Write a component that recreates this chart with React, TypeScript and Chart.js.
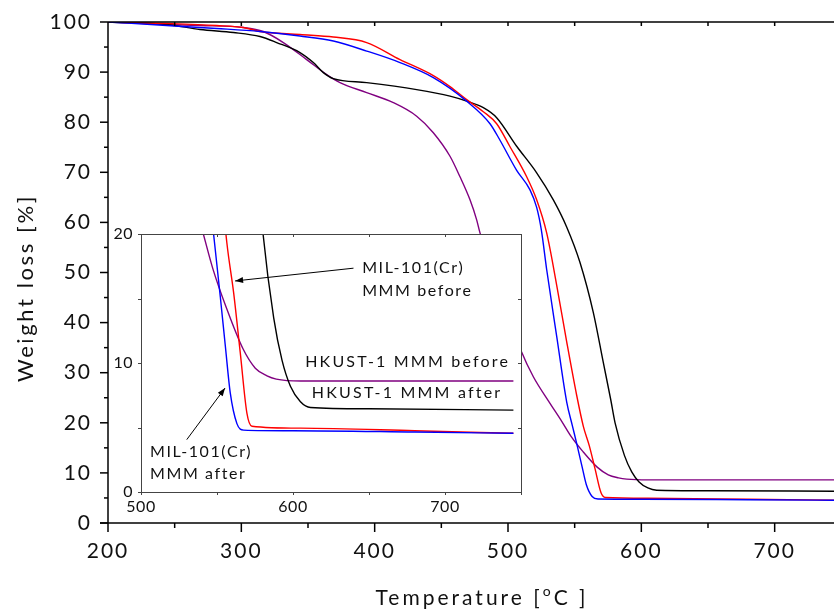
import React, { useEffect, useRef } from 'react';
import { Chart, registerables } from 'chart.js';

Chart.register(...registerables);

const FONT = 'Lato, "Open Sans", sans-serif';

// ---- Data (Temperature [°C], Weight [%]) ----
const redT = [200, 244, 281.5, 301.5, 314, 344, 369, 394, 419, 444, 456.5, 469, 481.5, 491.5, 501.5, 514, 521.5, 529, 536.5, 544, 551.5, 556.5, 561, 565.3, 569.7, 573, 605, 680, 745];
const redW = [100, 99.7, 99.3, 98.9, 98.1, 97.5, 97.0, 95.9, 92.5, 89.3, 87.1, 84.5, 82.1, 79.7, 75.1, 69.1, 64.5, 57.9, 47.5, 36.2, 25.5, 19.3, 15.4, 10.8, 6.1, 5.1, 4.95, 4.75, 4.55];

const blueT = [200, 244, 281.5, 314, 344, 369, 394, 419, 444, 469, 486.5, 494, 506.5, 516.5, 521.5, 525, 529, 536.5, 544, 548.3, 552.2, 555.5, 558.7, 563.1, 567.5, 600, 680, 745];
const blueW = [100, 99.3, 98.7, 98.1, 97.2, 96.2, 94.2, 91.9, 88.9, 84.2, 79.7, 76.4, 70.4, 66.5, 63.0, 58.5, 50.6, 37.3, 24.2, 19.4, 15.1, 11.3, 7.7, 5.3, 4.8, 4.75, 4.65, 4.55];

const blackT = [200, 244, 269, 294, 314, 326.5, 344, 354, 361.5, 369, 394, 431.5, 456.5, 469, 481.5, 491.5, 506.5, 521.5, 534, 544, 554, 564, 571.5, 577, 580.3, 587.3, 592.8, 598.3, 604.9, 611.5, 650, 745];
const blackW = [100, 99.5, 98.5, 97.9, 97.1, 95.9, 93.9, 91.9, 89.9, 88.7, 87.9, 86.5, 85.2, 84.2, 82.9, 80.9, 75.2, 69.9, 64.5, 59.1, 52.0, 42.0, 32.0, 24.7, 20, 13.5, 10.2, 8.2, 7.0, 6.55, 6.45, 6.35];

const purpleT = [200, 244, 269, 301.5, 316.5, 331.5, 349, 364, 374, 394, 414, 431.5, 444, 456.5, 464, 471.5, 476.5, 479, 494, 509.8, 519, 531.5, 540.3, 547.3, 556.1, 567.1, 575.2, 582.9, 589, 605, 680, 745];
const purpleW = [100, 99.5, 99.3, 98.9, 98.1, 95.9, 92.5, 89.5, 87.9, 85.9, 83.9, 81.2, 77.9, 73.2, 69.1, 64.5, 60.5, 57.9, 46, 34.4, 29.2, 23.9, 20.3, 17.3, 14.3, 11.1, 9.6, 9.0, 8.75, 8.6, 8.6, 8.6];

const seriesNames = ['MIL-101(Cr) MMM after', 'MIL-101(Cr) MMM before', 'HKUST-1 MMM after', 'HKUST-1 MMM before'];
const seriesColors = ['#0000FF', '#FF0000', '#000000', '#800080'];

// ---- Axis ticks ----
const mainXTicks = [200, 300, 400, 500, 600, 700];
const mainYTicks = [0, 10, 20, 30, 40, 50, 60, 70, 80, 90, 100];
const insetXTicks = [500, 600, 700];
const insetYTicks = [0, 10, 20];

const toPts = (t: number[], w: number[]) => t.map((x, i) => ({ x, y: w[i] }));

function makeDatasets() {
  const all = [toPts(blueT, blueW), toPts(redT, redW), toPts(blackT, blackW), toPts(purpleT, purpleW)];
  return all.map((data, i) => ({
    label: seriesNames[i],
    data,
    borderColor: seriesColors[i],
    backgroundColor: seriesColors[i],
    borderWidth: 1.4,
    pointRadius: 0,
    fill: false,
    cubicInterpolationMode: 'monotone' as const,
  }));
}

function line(ctx: CanvasRenderingContext2D, x1: number, y1: number, x2: number, y2: number) {
  ctx.beginPath();
  ctx.moveTo(x1, y1);
  ctx.lineTo(x2, y2);
  ctx.stroke();
}

function spacedText(ctx: CanvasRenderingContext2D, text: string, x: number, y: number, spacing: number) {
  (ctx as any).letterSpacing = spacing + 'px';
  ctx.fillText(text, x, y);
}

const zeroPadY = (s: any) => { s.paddingTop = 0; s.paddingBottom = 0; };
const zeroPadX = (s: any) => { s.paddingLeft = 0; s.paddingRight = 0; };

const mainPlugin = {
  id: 'mainDecor',
  beforeDraw(chart: any) {
    chart.ctx.letterSpacing = '2px';
  },
  afterDraw(chart: any) {
    const { ctx, chartArea, scales } = chart;
    const { left, right, top, bottom } = chartArea;
    const x = scales.x;
    const y = scales.y;
    ctx.save();
    ctx.strokeStyle = '#000';
    ctx.lineWidth = 1.5;
    line(ctx, left, top, right, top);
    line(ctx, left, top, left, bottom);
    line(ctx, left - 8, bottom, right, bottom);
    for (let v = 0; v <= 100; v += 5) {
      const p = y.getPixelForValue(v);
      const len = v % 10 === 0 ? 8 : 4;
      line(ctx, left - len, p, left, p);
    }
    for (let v = 200; v <= x.max; v += 50) {
      const p = x.getPixelForValue(v);
      const len = v % 100 === 0 ? 9 : 5;
      line(ctx, p, bottom, p, bottom + len);
      if (v > 200) line(ctx, p, top, p, top + 4);
    }
    // Titles
    ctx.fillStyle = '#111';
    ctx.textBaseline = 'alphabetic';
    ctx.textAlign = 'left';
    const big = '21px ' + FONT;
    const small = '14px ' + FONT;
    ctx.font = big;
    (ctx as any).letterSpacing = '3px';
    const p1 = 'Temperature [';
    const p3 = 'C ]';
    const w1 = ctx.measureText(p1).width;
    const w3 = ctx.measureText(p3).width;
    ctx.font = small;
    const w2 = ctx.measureText('o').width;
    const total = w1 + w2 + w3;
    let tx = 482 - total / 2;
    const ty = 605;
    ctx.font = big;
    spacedText(ctx, p1, tx, ty, 3);
    tx += w1;
    ctx.font = small;
    spacedText(ctx, 'o', tx, ty - 9, 1);
    tx += w2;
    ctx.font = big;
    spacedText(ctx, p3, tx, ty, 3);

    ctx.translate(33, 288);
    ctx.rotate(-Math.PI / 2);
    ctx.textAlign = 'center';
    ctx.font = '22px ' + FONT;
    spacedText(ctx, 'Weight loss [%]', 0, 0, 2.6);
    ctx.restore();
  },
};

function arrow(ctx: CanvasRenderingContext2D, x1: number, y1: number, x2: number, y2: number) {
  line(ctx, x1, y1, x2, y2);
  const a = Math.atan2(y2 - y1, x2 - x1);
  const L = 8, W = 3;
  ctx.beginPath();
  ctx.moveTo(x2, y2);
  ctx.lineTo(x2 - L * Math.cos(a) + W * Math.sin(a), y2 - L * Math.sin(a) - W * Math.cos(a));
  ctx.lineTo(x2 - L * Math.cos(a) - W * Math.sin(a), y2 - L * Math.sin(a) + W * Math.cos(a));
  ctx.closePath();
  ctx.fill();
}

const insetPlugin = {
  id: 'insetDecor',
  beforeDraw(chart: any) {
    const { ctx, chartArea } = chart;
    ctx.save();
    ctx.fillStyle = '#fff';
    ctx.fillRect(chartArea.left, chartArea.top, chartArea.right - chartArea.left, chartArea.bottom - chartArea.top);
    ctx.restore();
    ctx.letterSpacing = '0.5px';
  },
  afterDraw(chart: any) {
    const { ctx, chartArea, scales } = chart;
    const { left, right, top, bottom } = chartArea;
    const x = scales.x;
    const y = scales.y;
    ctx.save();
    ctx.strokeStyle = '#444';
    ctx.lineWidth = 1;
    ctx.strokeRect(left + 0.5, top + 0.5, right - left, bottom - top);
    for (let v = 0; v <= 20; v += 5) {
      const p = Math.round(y.getPixelForValue(v)) + 0.5;
      line(ctx, left - 3, p, left, p);
      line(ctx, right, p, right - 3, p);
    }
    for (let v = 500; v <= 750; v += 50) {
      const p = Math.round(x.getPixelForValue(v)) + 0.5;
      line(ctx, p, bottom, p, bottom + 3);
      line(ctx, p, top, p, top + 3);
    }
    // Annotations
    ctx.fillStyle = '#111';
    ctx.strokeStyle = '#000';
    ctx.font = '16px ' + FONT;
    ctx.textAlign = 'left';
    ctx.textBaseline = 'alphabetic';
    const X = (v: number) => x.getPixelForValue(v);
    const Y = (v: number) => y.getPixelForValue(v);
    spacedText(ctx, 'MIL-101(Cr)', X(645.5), Y(16.98), 1.6);
    spacedText(ctx, 'MMM before', X(645.5), Y(15.2), 1.6);
    spacedText(ctx, 'HKUST-1 MMM before', X(608), Y(9.71), 2.2);
    spacedText(ctx, 'HKUST-1 MMM after', X(612.4), Y(7.31), 2.2);
    spacedText(ctx, 'MIL-101(Cr)', X(505.9), Y(2.75), 1.6);
    spacedText(ctx, 'MMM after', X(505.9), Y(1.04), 1.6);
    ctx.fillStyle = '#000';
    ctx.lineWidth = 1;
    arrow(ctx, X(639.8), Y(17.35), X(561.9), Y(16.36));
    arrow(ctx, X(530.1), Y(4.06), X(555.3), Y(8.06));
    ctx.restore();
  },
};

export default function App() {
  const mainRef = useRef<HTMLCanvasElement>(null);
  const insetRef = useRef<HTMLCanvasElement>(null);

  useEffect(() => {
    document.body.style.margin = '0';
    const main = new Chart(mainRef.current!, {
      type: 'line',
      data: { datasets: makeDatasets() },
      plugins: [mainPlugin],
      options: {
        animation: false,
        responsive: false,
        events: [],
        layout: { padding: { top: 22, left: 0, right: 0, bottom: 0 } },
        plugins: { legend: { display: false }, tooltip: { enabled: false } },
        scales: {
          x: {
            type: 'linear',
            min: 200,
            max: 744.5,
            grid: { display: false, drawTicks: false },
            border: { display: false },
            afterBuildTicks: (s: any) => { s.ticks = mainXTicks.map((v) => ({ value: v })); },
            afterFit: (s: any) => { s.height = 86; zeroPadX(s); },
            ticks: { font: { family: FONT, size: 21 }, color: '#111', padding: 16, maxRotation: 0, autoSkip: false },
          },
          y: {
            type: 'linear',
            min: 0,
            max: 100,
            grid: { display: false, drawTicks: false },
            border: { display: false },
            afterBuildTicks: (s: any) => { s.ticks = mainYTicks.map((v) => ({ value: v })); },
            afterFit: (s: any) => { s.width = 108; zeroPadY(s); },
            ticks: { font: { family: FONT, size: 21 }, color: '#111', padding: 16, autoSkip: false },
          },
        },
      },
    });
    const inset = new Chart(insetRef.current!, {
      type: 'line',
      data: { datasets: makeDatasets() },
      plugins: [insetPlugin],
      options: {
        animation: false,
        responsive: false,
        events: [],
        layout: { padding: { top: 12, left: 0, right: 11, bottom: 0 } },
        plugins: { legend: { display: false }, tooltip: { enabled: false } },
        scales: {
          x: {
            type: 'linear',
            min: 500,
            max: 750,
            grid: { display: false, drawTicks: false },
            border: { display: false },
            afterBuildTicks: (s: any) => { s.ticks = insetXTicks.map((v) => ({ value: v })); },
            afterFit: (s: any) => { s.height = 30; zeroPadX(s); },
            ticks: { font: { family: FONT, size: 16 }, color: '#111', padding: 5, maxRotation: 0, autoSkip: false },
          },
          y: {
            type: 'linear',
            min: 0,
            max: 20,
            grid: { display: false, drawTicks: false },
            border: { display: false },
            afterBuildTicks: (s: any) => { s.ticks = insetYTicks.map((v) => ({ value: v })); },
            afterFit: (s: any) => { s.width = 29; zeroPadY(s); },
            ticks: { font: { family: FONT, size: 16 }, color: '#111', padding: 8, autoSkip: false },
          },
        },
      },
    });
    return () => {
      main.destroy();
      inset.destroy();
    };
  }, []);

  return (
    <div style={{ position: 'relative', width: 834, height: 609, background: '#fff', overflow: 'hidden' }}>
      <canvas ref={mainRef} width={834} height={609} style={{ position: 'absolute', left: 0, top: 0, width: 834, height: 609 }} />
      <canvas ref={insetRef} width={420} height={300} style={{ position: 'absolute', left: 112, top: 222, width: 420, height: 300 }} />
    </div>
  );
}
